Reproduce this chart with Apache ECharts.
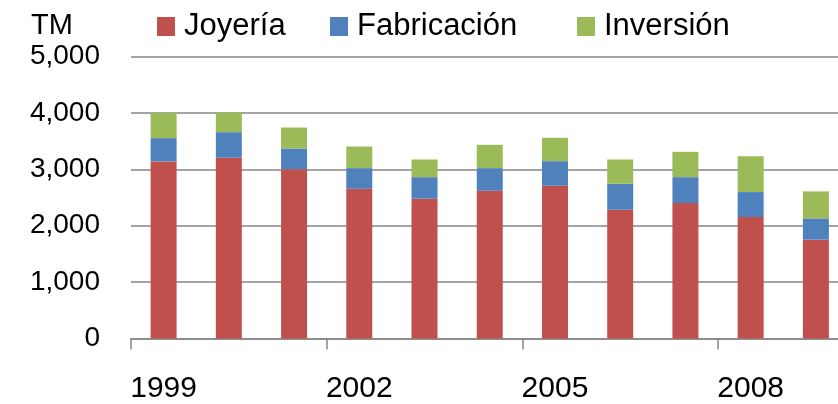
<!DOCTYPE html>
<html>
<head>
<meta charset="utf-8">
<script src="https://cdn.jsdelivr.net/npm/echarts@6/dist/echarts.min.js"></script>
<style>
html,body{margin:0;padding:0;background:#fff;overflow:hidden;}
#chart{width:870px;height:404px;}
</style>
</head>
<body>
<div id="chart"></div>
<script>
const years = ['1999','2000','2001','2002','2003','2004','2005','2006','2007','2008','2009'];
const joyeria = [3140, 3205, 3003, 2655, 2478, 2619, 2708, 2283, 2401, 2153, 1752];
const fabricacion = [413, 453, 366, 366, 383, 402, 437, 460, 460, 443, 378];
const inversion = [450, 350, 371, 383, 313, 413, 413, 431, 449, 637, 478];
const seriesNames = ['Joyería', 'Fabricación', 'Inversión'];
const colors = ['#C0504D', '#4F81BD', '#9BBB59'];
const FONT = '"Liberation Sans", Arial, sans-serif';

const chart = echarts.init(document.getElementById('chart'));
const legendLefts = [152, 325, 572];
chart.setOption({
  animation: false,
  textStyle: {fontFamily: FONT},
  title: {
    text: 'TM', left: 26, top: 6,
    textStyle: {fontFamily: FONT, fontSize: 29, fontWeight: 'normal', color: '#000'}
  },
  legend: seriesNames.map((n, i) => ({
    data: [n], left: legendLefts[i], top: 6,
    itemWidth: 18, itemHeight: 19, itemGap: 0,
    icon: 'rect',
    textStyle: {fontFamily: FONT, fontSize: 31, color: '#000', padding: [0,0,0,4]}
  })),
  grid: {left: 131, top: 56.5, width: 717.5, height: 282, containLabel: false},
  xAxis: {
    type: 'category', data: years, boundaryGap: true,
    axisLine: {lineStyle: {color: '#868686', width: 1.5}},
    axisTick: {show: true, interval: 2, length: 11, lineStyle: {color: '#868686', width: 1.5}},
    axisLabel: {interval: 2, fontSize: 30, color: '#000', margin: 35, fontFamily: FONT}
  },
  yAxis: {
    type: 'value', min: 0, max: 5000, interval: 1000,
    axisLine: {show: false}, axisTick: {show: false},
    axisLabel: {fontSize: 28, color: '#000', margin: 31, fontFamily: FONT,
      formatter: v => v.toLocaleString('en-US')},
    splitLine: {lineStyle: {color: '#868686', width: 1.5}}
  },
  series: [joyeria, fabricacion, inversion].map((d, i) => ({
    name: seriesNames[i], type: 'bar', stack: 'total', data: d,
    barWidth: 26, itemStyle: {color: colors[i]}
  }))
});
</script>
</body>
</html>
